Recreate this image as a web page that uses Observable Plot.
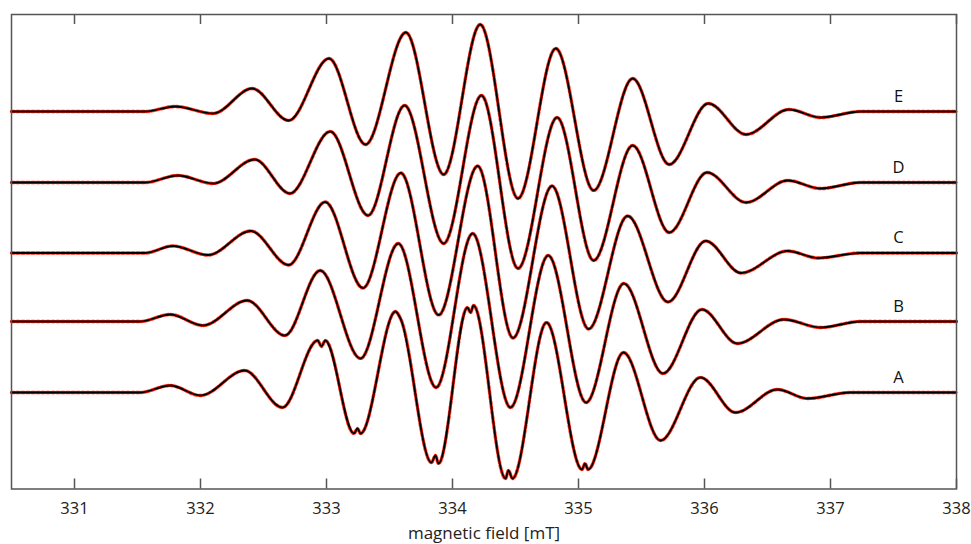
<!DOCTYPE html>
<html><head><meta charset="utf-8">
<script src="https://cdn.jsdelivr.net/npm/d3@7"></script>
<script src="https://cdn.jsdelivr.net/npm/@observablehq/plot@0.6"></script>
<style>body{margin:0;background:#fff} #chart svg{display:block}</style>
</head><body><div id="chart"></div>
<script>
// Trace names (bottom to top) and their vertical stacking offsets (arbitrary units)
const traceNames = ["A", "B", "C", "D", "E"];
const traceOffsets = [96.5, 167.5, 236, 306.5, 377.5];

// Field (mT) and derivative signal (arbitrary units) at extrema
const fieldE  = [330.5, 331.56, 331.80, 332.10, 332.41, 332.70, 333.02, 333.31, 333.63, 333.93, 334.22, 334.52, 334.82, 335.12, 335.43, 335.72, 336.03, 336.33, 336.67, 336.92, 337.24, 338.0];
const signalE = [0, 0, 5, -2, 23, -9, 53, -33, 79, -63, 87, -87, 63, -79, 33, -53, 8, -23, 2, -6, 0, 0];

const fieldD  = [330.5, 331.56, 331.82, 332.10, 332.43, 332.71, 333.03, 333.33, 333.62, 333.93, 334.23, 334.52, 334.83, 335.12, 335.43, 335.72, 336.02, 336.33, 336.66, 336.92, 337.24, 338.0];
const signalD = [0, 0, 7, -1, 23, -11, 51, -33, 77, -61, 87, -86, 65, -78, 37, -50, 10, -20, 2, -6, 0, 0];

const fieldC  = [330.5, 331.56, 331.78, 332.06, 332.40, 332.70, 332.99, 333.29, 333.59, 333.89, 334.20, 334.48, 334.79, 335.08, 335.39, 335.71, 336.01, 336.29, 336.66, 336.90, 337.24, 338.0];
const signalC = [0, 0, 7, -2, 22, -12, 51, -35, 80, -62, 87, -85, 67, -76, 37, -49, 12, -20, 2, -5, 0, 0];

const fieldB  = [330.5, 331.52, 331.76, 332.02, 332.37, 332.67, 332.95, 333.27, 333.57, 333.87, 334.16, 334.46, 334.76, 335.06, 335.36, 335.67, 335.98, 336.26, 336.63, 336.92, 337.24, 338.0];
const signalB = [0, 0, 7, -4, 21, -14, 51, -37, 78, -66, 88, -86, 66, -81, 38, -52, 12, -22, 2, -6, 0, 0];

const fieldA  = [330.5, 331.52, 331.76, 332.0, 332.35, 332.65, 332.93, 332.96, 332.99, 333.218, 333.246, 333.270, 333.548, 333.587, 333.833, 333.865, 333.889, 334.119, 334.143, 334.167, 334.421, 334.444, 334.476, 334.746, 335.028, 335.052, 335.075, 335.357, 335.651, 335.968, 336.246, 336.579, 336.817, 337.159, 338.0];
const signalA = [0, 0, 7, -3, 22, -15, 52, 46, 52, -41, -36, -41, 81, 74, -70, -63, -71, 85, 80, 87, -86, -78, -86, 70, -77, -71, -77, 40, -48, 15, -20, 3, -6, 0, 0];

const xTicks = [331, 332, 333, 334, 335, 336, 337, 338];
const labelField = 337.54;
const labelLift = 15;
const axisTitle = "magnetic field [mT]";

const series = {A: [fieldA, signalA], B: [fieldB, signalB], C: [fieldC, signalC], D: [fieldD, signalD], E: [fieldE, signalE]};
const rows = [];
traceNames.forEach((n, i) => {
  const [f, s] = series[n];
  f.forEach((x, j) => rows.push({trace: n, field: x, value: s[j] + traceOffsets[i]}));
});
const labels = traceNames.map((n, i) => ({name: n, field: labelField, value: traceOffsets[i] + labelLift}));

const plotH = 474.5;
const chart = Plot.plot({
  width: 971, height: 544,
  marginTop: 14, marginBottom: 55.5, marginLeft: 11, marginRight: 15,
  x: {domain: [330.5, 338]},
  y: {domain: [0, 474.5], axis: null},
  style: {fontFamily: "'Open Sans', 'Noto Sans', sans-serif", fontSize: "16px", background: "#fff", color: "#222"},
  marks: [
    Plot.line(rows, {x: "field", y: "value", z: "trace", curve: "monotone-x", stroke: "#ff2a1a", strokeWidth: 3.4, strokeDasharray: "3,2"}),
    Plot.line(rows, {x: "field", y: "value", z: "trace", curve: "monotone-x", stroke: "#000", strokeWidth: 1.8}),
    Plot.text(labels, {x: "field", y: "value", text: "name", fontSize: 16.5, fill: "#111"}),
    Plot.tickX(xTicks, {x: d => d, insetTop: plotH - 10, stroke: "#555", strokeWidth: 1.5}),
    Plot.tickX(xTicks, {x: d => d, insetBottom: plotH - 10, stroke: "#555", strokeWidth: 1.5}),
    Plot.frame({stroke: "#555", strokeWidth: 1.5}),
    Plot.axisX({ticks: xTicks, tickSize: 0, tickPadding: 13, fontSize: 16.5, tickFormat: d => String(d), label: null}),
    Plot.text([axisTitle], {text: d => d, frameAnchor: "bottom", dy: 50, fontSize: 17, fill: "#222"})
  ]
});
document.getElementById("chart").appendChild(chart);
</script>
</body></html>
